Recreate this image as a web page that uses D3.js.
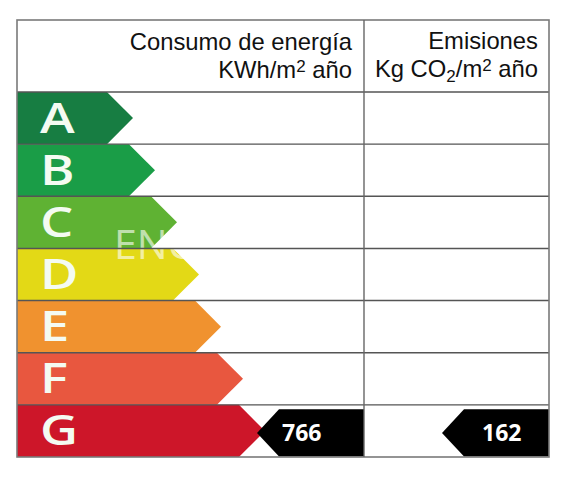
<!DOCTYPE html>
<html>
<head>
<meta charset="utf-8">
<script src="https://cdn.jsdelivr.net/npm/d3@7"></script>
<style>
  body { margin: 0; background: #fff; }
  svg { display: block; }
  .head { font-family: "Liberation Sans", Arial, sans-serif; font-size: 23.8px; fill: #111; }
  .letter { font-family: "Open Sans", sans-serif; font-weight: 600; font-size: 41px; fill: #f4fbf2; }
  .value { font-family: "Open Sans", sans-serif; font-weight: 700; font-size: 23px; fill: #fff; }
</style>
</head>
<body>
<svg width="570" height="482"></svg>
<script>
const width = 570;
const height = 482;

const svg = d3.select('svg');

// energy classes, from best to worst
const classes = ['A', 'B', 'C', 'D', 'E', 'F', 'G'];
const classColors = ['#177d42', '#1a9d47', '#5fb233', '#e3d916', '#f0922f', '#e8573f', '#cd1629'];
const arrowSteps = [1, 2, 3, 4, 5, 6, 7];

// rated values for this property
const energyValue = 766;
const energyClass = 'G';
const emissionValue = 162;
const emissionClass = 'G';

const render = () => {
    const margin = { top: 20, left: 17, right: 21, bottom: 25 };
    const headerHeight = 72;
    const splitX = 364;
    const tableRight = width - margin.right;
    const tableBottom = height - margin.bottom;

    const yScale = d3.scaleBand()
        .domain(classes)
        .range([margin.top + headerHeight, tableBottom]);

    const xScale = d3.scaleLinear()
        .domain([0, 7])
        .range([margin.left + 94, margin.left + 94 + 22 * 7]);

    const g = svg.append('g');

    // colour arrows
    g.selectAll('path.band')
        .data(classes)
        .enter()
        .append('path')
        .attr('class', 'band')
        .attr('fill', (d, i) => classColors[i])
        .attr('d', (d, i) => {
            const y0 = yScale(d);
            const h = yScale.bandwidth();
            const tip = xScale(arrowSteps[i]);
            const body = tip - h / 2;
            return 'M' + margin.left + ',' + y0 + 'L' + body + ',' + y0 + 'L' + tip + ',' + (y0 + h / 2) +
                'L' + body + ',' + (y0 + h) + 'L' + margin.left + ',' + (y0 + h) + 'Z';
        });

    g.selectAll('text.letter')
        .data(classes)
        .enter()
        .append('text')
        .attr('class', 'letter')
        .attr('transform', d => 'translate(' + (margin.left + 23) + ',' + (yScale(d) + yScale.bandwidth() / 2 + 14.5) + ') scale(1.28,1)')
        .text(d => d);

    // faint watermark remnant
    g.append('text')
        .text('ENC')
        .attr('x', 114)
        .attr('y', 259)
        .attr('fill', '#fff')
        .attr('opacity', 0.6)
        .style('font-family', 'Open Sans, sans-serif')
        .style('font-weight', 400)
        .style('font-size', '41px');

    // grid lines
    g.selectAll('line.row')
        .data(classes)
        .enter()
        .append('line')
        .attr('class', 'row')
        .attr('x1', margin.left)
        .attr('x2', tableRight)
        .attr('y1', d => yScale(d))
        .attr('y2', d => yScale(d))
        .attr('stroke', '#555')
        .attr('stroke-width', 1.4);

    // value pointers
    const pointer = (value, cls, right, textOffset) => {
        const y0 = yScale(cls) + 4.5;
        const y1 = yScale(cls) + yScale.bandwidth() - 0.5;
        const len = 107;
        const depth = 22;
        const point = right - len;
        g.append('path')
            .attr('fill', '#000')
            .attr('d', 'M' + right + ',' + y0 + 'L' + (point + depth) + ',' + y0 + 'L' + point + ',' + ((y0 + y1) / 2) +
                'L' + (point + depth) + ',' + y1 + 'L' + right + ',' + y1 + 'Z');
        g.append('text')
            .attr('class', 'value')
            .attr('x', point + textOffset)
            .attr('y', (y0 + y1) / 2 + 8.5)
            .text(value);
    };
    pointer(energyValue, energyClass, splitX, 25);
    pointer(emissionValue, emissionClass, tableRight, 40);

    // frame
    g.append('rect')
        .attr('x', margin.left)
        .attr('y', margin.top)
        .attr('width', tableRight - margin.left)
        .attr('height', tableBottom - margin.top)
        .attr('fill', 'none')
        .attr('stroke', '#7a7a7a')
        .attr('stroke-width', 1.6);

    g.append('line')
        .attr('x1', splitX).attr('x2', splitX)
        .attr('y1', margin.top).attr('y2', tableBottom)
        .attr('stroke', '#666')
        .attr('stroke-width', 1.4);

    // headers
    const h1 = g.append('text').attr('class', 'head').attr('text-anchor', 'end');
    h1.append('tspan').attr('x', splitX - 12).attr('y', 50).text('Consumo de energía');
    const h1b = g.append('text').attr('class', 'head').attr('text-anchor', 'end').attr('x', splitX - 12).attr('y', 78);
    h1b.append('tspan').text('KWh/m');
    h1b.append('tspan').attr('dy', -6).style('font-size', '17px').text('2');
    h1b.append('tspan').attr('dy', 6).text(' año');

    g.append('text').attr('class', 'head').attr('text-anchor', 'end')
        .attr('x', tableRight - 11).attr('y', 49).text('Emisiones');
    const h2b = g.append('text').attr('class', 'head').attr('text-anchor', 'end').attr('x', tableRight - 11).attr('y', 77);
    h2b.append('tspan').text('Kg CO');
    h2b.append('tspan').attr('dy', 5).style('font-size', '17px').text('2');
    h2b.append('tspan').attr('dy', -5).text('/m');
    h2b.append('tspan').attr('dy', -6).style('font-size', '17px').text('2');
    h2b.append('tspan').attr('dy', 6).text(' año');
};

render();
</script>
</body>
</html>
